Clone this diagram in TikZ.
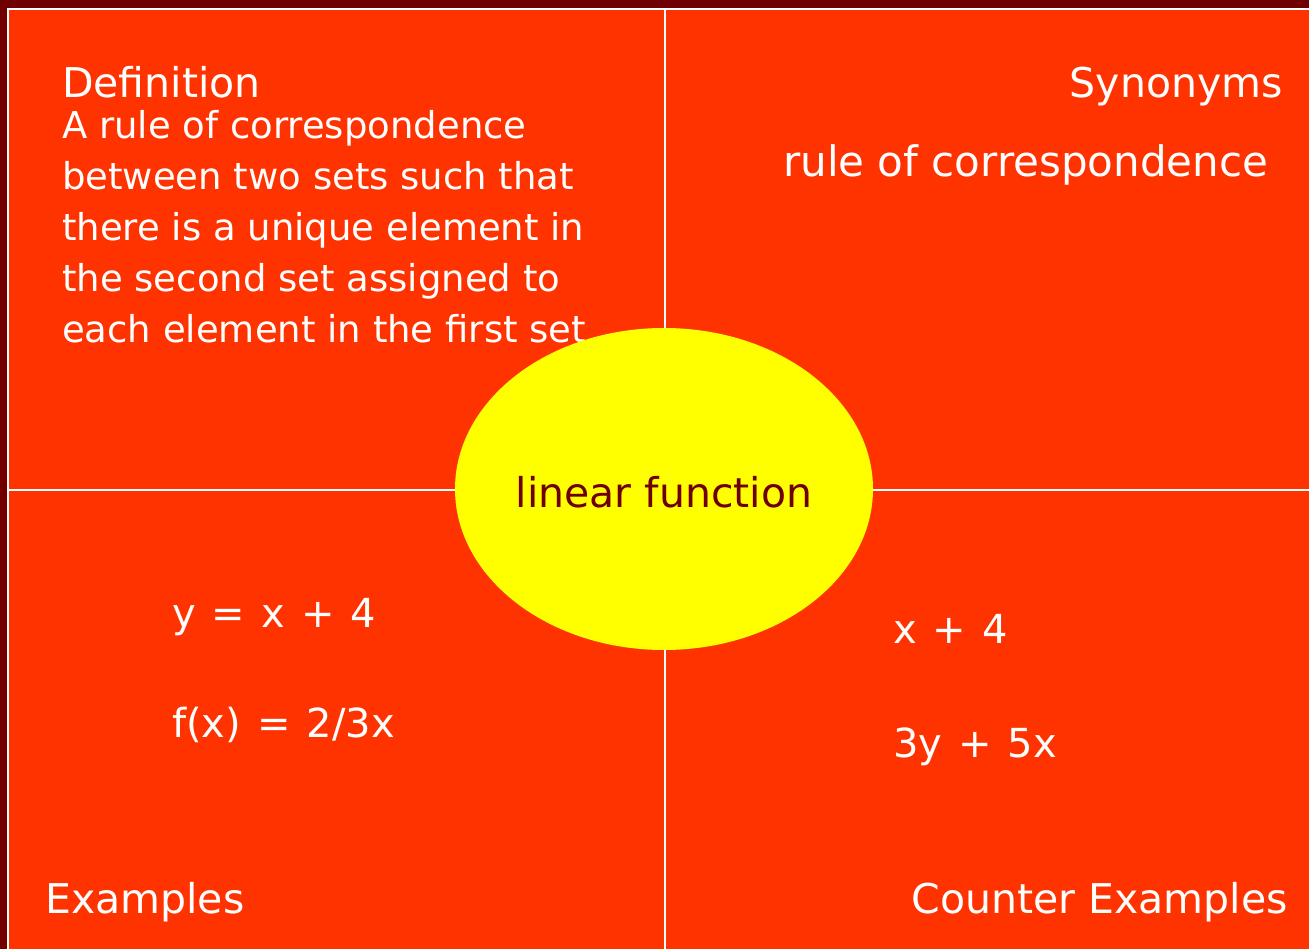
\documentclass[tikz,border=0pt]{standalone}
\usepackage{fontspec}
\setmainfont{DejaVu Sans}
\usetikzlibrary{shapes.geometric}

\definecolor{slidebg}{RGB}{112,0,0}
\definecolor{boxred}{RGB}{255,51,0}
\definecolor{ovalyellow}{RGB}{255,255,0}
\definecolor{ovaltext}{RGB}{110,0,0}

\tikzset{
  head/.style={anchor=base west,inner sep=0,text=white,font=\fontsize{41}{49}\selectfont},
  body/.style={anchor=base west,inner sep=0,text=white,align=left,font=\fontsize{37}{51}\selectfont},
  formula/.style={anchor=base west,inner sep=0,text=white,font=\fontsize{40}{46}\selectfont,
    execute at begin node={\spaceskip=16pt\relax}},
}

\begin{document}
\begin{tikzpicture}[x=1pt,y=-1pt]
\useasboundingbox (0,0) rectangle (1309,949);
\fill[slidebg] (0,0) rectangle (1309,949);
\fill[boxred] (8,9) rectangle (1309,949);
% frame and the two dividing lines
\draw[white,line width=1.5pt] (8,949) -- (8,9) -- (1309,9);
\draw[white,line width=1.5pt] (665,9) -- (665,949);
\draw[white,line width=1.5pt] (8,490) -- (1309,490);

\node[head] (defhead) at (62,98) {Definition};
% base of the last line
\node[body] (deftext) at (62,343) {A rule of correspondence\\between two sets such that\\there is a unique element in\\the second set assigned to\\each element in the first set};

\node[head,anchor=base east] (synhead) at (1283,98) {Synonyms};
\node[body,font=\fontsize{42}{50}\selectfont] (syntext) at (783,177) {rule of correspondence};

\node[ellipse,fill=ovalyellow,minimum width=418,minimum height=322,inner sep=0,
      text=ovaltext,font=\fontsize{41}{49}\selectfont] (concept) at (664,489) {};
\node[anchor=base,inner sep=0,text=ovaltext,font=\fontsize{41}{49}\selectfont] (conceptname) at (664,507) {linear function};

\node[formula] (exone) at (172,627) {y = x + 4};
\node[formula] (extwo) at (172,737) {f(x) = 2/3x};
\node[head] (exhead) at (45,913) {Examples};

\node[formula] (ctrone) at (893,643) {x + 4};
\node[formula] (ctrtwo) at (893,757) {3y + 5x};
\node[head,anchor=base east] (ctrhead) at (1288,913) {Counter Examples};
\end{tikzpicture}
\end{document}
